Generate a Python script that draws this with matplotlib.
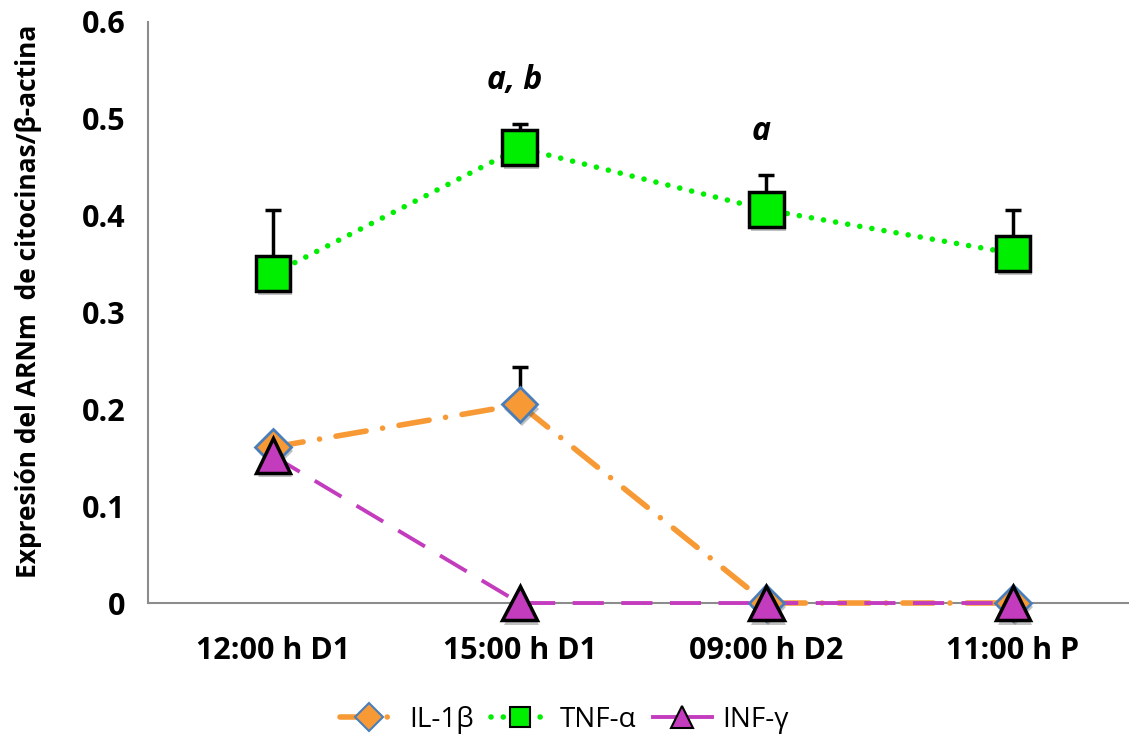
import matplotlib
matplotlib.use("Agg")
import matplotlib.pyplot as plt
import matplotlib.patheffects as pe
from matplotlib.lines import Line2D
import numpy as np

categories = ["12:00 h D1", "15:00 h D1", "09:00 h D2", "11:00 h P"]
il1b = [0.161, 0.205, 0.0, 0.0]
il1b_err = [0.0, 0.039, 0.0, 0.0]
tnfa = [0.340, 0.470, 0.406, 0.361]
tnfa_err = [0.066, 0.025, 0.036, 0.045]
infg = [0.152, 0.0, 0.0, 0.0]
annotations = {1: "a, b", 2: "a"}

plt.rcParams["font.family"] = ["Open Sans", "DejaVu Sans"]

fig = plt.figure(figsize=(11.29, 7.42), dpi=100)
ax = fig.add_axes([0.131, 0.1873, 0.869, 0.7831])

x = np.arange(len(categories))
shadow = [pe.SimplePatchShadow(offset=(1.5, -3), shadow_rgbFace="0.3", alpha=0.35), pe.Normal()]

GREEN = "#00EE00"
ORANGE = "#F79A35"
PURPLE = "#C43CBE"
dashdot = (0, (5.5, 3, 0.01, 3))
dotted = (0, (0.01, 2.2))
dashed = (0, (8, 4.5))

# connecting lines (drawn above the axis line so the zero segments stay visible)
ax.plot(x, tnfa, color=GREEN, lw=4, linestyle=dotted, dash_capstyle="round", zorder=3,
        clip_on=False)
ax.plot(x, il1b, color=ORANGE, lw=4, linestyle=dashdot, dash_capstyle="round", zorder=3,
        clip_on=False)
ax.plot(x, infg, color=PURPLE, lw=2.8, linestyle=dashed, zorder=3.1, clip_on=False)

# upper error bars
for ys, es in [(tnfa, tnfa_err), (il1b, il1b_err)]:
    for xi, yi, ei in zip(x, ys, es):
        if ei > 0:
            ax.errorbar([xi], [yi], yerr=[[0], [ei]], fmt="none", ecolor="black",
                        elinewidth=2.5, capsize=6, capthick=2.5, zorder=3.5)

# markers
ax.plot(x, tnfa, linestyle="none", marker="s", markersize=25, markerfacecolor=GREEN,
        markeredgecolor="black", markeredgewidth=2.5, zorder=4, path_effects=shadow,
        clip_on=False)
ax.plot(x, il1b, linestyle="none", marker="D", markersize=18, markerfacecolor=ORANGE,
        markeredgecolor="#4A7EBB", markeredgewidth=2, zorder=5, path_effects=shadow,
        clip_on=False)
ax.plot(x, infg, linestyle="none", marker="^", markersize=25, markerfacecolor=PURPLE,
        markeredgecolor="black", markeredgewidth=2.5, zorder=6, path_effects=shadow,
        clip_on=False)

for i, txt in annotations.items():
    ax.text(i - 0.02, tnfa[i] + tnfa_err[i] + 0.045, txt, ha="center", va="center",
            fontsize=23, fontweight="bold", fontstyle="italic")

ax.set_xlim(-0.507, 3.47)
ax.set_ylim(0, 0.6)
ax.set_yticks(np.arange(0, 0.61, 0.1))
ax.set_yticklabels(["0", "0.1", "0.2", "0.3", "0.4", "0.5", "0.6"])
ax.set_xticks(x)
ax.set_xticklabels(categories)
ax.tick_params(axis="both", length=0, labelsize=22)
ax.tick_params(axis="y", pad=16)
ax.tick_params(axis="x", pad=24)
for lbl in ax.get_xticklabels() + ax.get_yticklabels():
    lbl.set_fontweight("bold")

for s in ["top", "right"]:
    ax.spines[s].set_visible(False)
for s in ["left", "bottom"]:
    ax.spines[s].set_color("#8C8C8C")
    ax.spines[s].set_linewidth(1.5)

ax.set_ylabel("Expresión del ARNm  de citocinas/β-actina", fontsize=19, fontweight="bold",
              va="center")
ax.yaxis.set_label_coords(-0.122, 0.52)

handles = [
    Line2D([], [], color=ORANGE, lw=4, linestyle=dashdot, dash_capstyle="round",
           marker="D", markersize=14, markerfacecolor=ORANGE,
           markeredgecolor="#4A7EBB", markeredgewidth=1.5),
    Line2D([], [], color=GREEN, lw=4, linestyle=dotted, dash_capstyle="round",
           marker="s", markersize=15, markerfacecolor=GREEN, markeredgecolor="black",
           markeredgewidth=1.5),
    Line2D([], [], color=PURPLE, lw=2.8, marker="^", markersize=16,
           markerfacecolor=PURPLE, markeredgecolor="black", markeredgewidth=1.5),
]
fig.legend(handles, ["IL-1β", "TNF-α", "INF-γ"], loc="center", bbox_to_anchor=(0.5, 0.03),
           ncol=3, frameon=False, fontsize=20, handlelength=2.1, handletextpad=0.4,
           columnspacing=0.6)

fig.savefig("out.png", dpi=100)
